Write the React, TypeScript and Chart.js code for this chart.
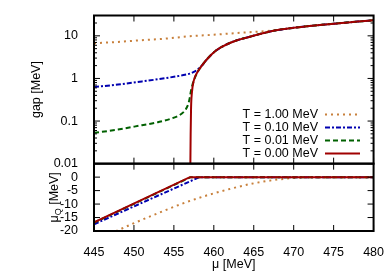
import React, { useEffect, useRef } from 'react';
import { Chart, registerables } from 'chart.js';

Chart.register(...registerables);

const FONT = '"Liberation Sans", Arial, Helvetica, sans-serif';
const FS = 12.5;

// ---- axis ticks ----
const xTicks = [445, 450, 455, 460, 465, 470, 475, 480];
const gapTicks = [0.01, 0.1, 1, 10];
const muQTicks = [-20, -15, -10, -5, 0];

// ---- series labels / colours ----
const seriesLabels = ['T = 1.00 MeV', 'T = 0.10 MeV', 'T = 0.01 MeV', 'T = 0.00 MeV'];
const seriesColors = ['#c8803c', '#0000b0', '#006000', '#a00000'];
const seriesDash = [[2, 4], [5, 2, 2, 2], [5, 3], []];

// ---- top panel: gap [MeV] ----
const muGapT100 = [445, 448, 451, 454, 457, 460, 463, 466, 468, 470, 472, 474, 476, 478, 480];
const gapT100 = [6.7, 7.2, 7.9, 8.6, 9.8, 10.6, 11.7, 12.7, 13.8, 15.4, 17.0, 18.5, 20.0, 21.6, 23.2];

const muGapT010 = [445, 448, 451, 454, 456, 457, 457.5, 458, 458.5, 459.2, 460.2, 461, 462, 463, 464.4, 466, 468, 470, 472, 474, 476, 478, 480];
const gapT010 = [0.63, 0.72, 0.85, 1.02, 1.18, 1.3, 1.42, 1.65, 2.0, 2.9, 4.4, 5.5, 6.8, 8.0, 9.4, 11.3, 13.7, 15.4, 17.0, 18.5, 20.0, 21.6, 23.2];

const muGapT001 = [445, 448, 451, 453, 455, 456, 456.5, 456.8, 457, 457.15, 457.3, 457.5, 458, 458.5, 459.2, 460.2, 461, 462, 463, 464.4, 466, 468, 470, 472, 474, 476, 478, 480];
const gapT001 = [0.053, 0.063, 0.08, 0.094, 0.12, 0.15, 0.19, 0.25, 0.36, 0.52, 0.68, 0.9, 1.45, 2.0, 2.9, 4.4, 5.5, 6.8, 8.0, 9.4, 11.3, 13.7, 15.4, 17.0, 18.5, 20.0, 21.6, 23.2];

const muGapT000 = [457.05, 457.1, 457.15, 457.25, 457.5, 458, 458.5, 459.2, 460.2, 461, 462, 463, 464.4, 466, 468, 470, 472, 474, 476, 478, 480];
const gapT000 = [0.005, 0.05, 0.2, 0.45, 0.9, 1.45, 2.0, 2.9, 4.4, 5.5, 6.8, 8.0, 9.4, 11.3, 13.7, 15.4, 17.0, 18.5, 20.0, 21.6, 23.2];

// ---- bottom panel: mu_Q [MeV] ----
const muQmuT100 = [445, 447.8, 450, 453, 456, 459, 462, 465, 468, 471, 474, 480];
const muQT100 = [-23.7, -20, -17.1, -13.4, -9.9, -6.9, -4.4, -2.3, -0.9, -0.15, 0, 0];

const muQmuT010 = [445, 458.2, 480];
const muQT010 = [-17.5, 0, 0];

const muQmuT001 = [445, 457.1, 480];
const muQT001 = [-16.9, 0, 0];

const muQmuT000 = [445, 457, 480];
const muQT000 = [-16.8, 0, 0];

const pts = (xs: number[], ys: number[]) => xs.map((x, i) => ({ x, y: ys[i] }));

const topSets = [
  pts(muGapT100, gapT100),
  pts(muGapT010, gapT010),
  pts(muGapT001, gapT001),
  pts(muGapT000, gapT000),
];
const botSets = [
  pts(muQmuT100, muQT100),
  pts(muQmuT010, muQT010),
  pts(muQmuT001, muQT001),
  pts(muQmuT000, muQT000),
];

const overlayPlugin = {
  id: 'overlay',
  afterDatasetsDraw(chart: any) {
    const { ctx, chartArea, scales } = chart;
    const xs = scales.x;
    const left = chartArea.left;
    const right = chartArea.right;
    const line = (x1: number, y1: number, x2: number, y2: number) => {
      ctx.beginPath();
      ctx.moveTo(x1, y1);
      ctx.lineTo(x2, y2);
      ctx.stroke();
    };
    ctx.save();
    ctx.strokeStyle = '#000';
    ctx.lineWidth = 1;
    const panels = [
      { s: scales.yTop, t: gapTicks },
      { s: scales.yBot, t: muQTicks },
    ];
    for (const p of panels) {
      for (const v of xTicks) {
        const px = xs.getPixelForValue(v);
        line(px, p.s.top, px, p.s.top + 6);
        line(px, p.s.bottom, px, p.s.bottom - 6);
      }
      for (const v of p.t) {
        const py = p.s.getPixelForValue(v);
        line(left, py, left + 6, py);
        line(right, py, right - 6, py);
      }
    }
    // minor log ticks
    const yt = scales.yTop;
    for (const d of gapTicks) {
      for (let m = 2; m <= 9; m++) {
        const v = d * m;
        if (v > yt.max) continue;
        const py = yt.getPixelForValue(v);
        line(left, py, left + 3, py);
        line(right, py, right - 3, py);
      }
    }
    // frames
    ctx.lineWidth = 2;
    for (const p of panels) {
      ctx.strokeRect(left, p.s.top, right - left, p.s.bottom - p.s.top);
    }
    // legend
    ctx.font = `${FS}px ${FONT}`;
    ctx.fillStyle = '#000';
    ctx.textAlign = 'right';
    ctx.textBaseline = 'middle';
    const rowY = [114.5, 127.5, 140.5, 153.5];
    seriesLabels.forEach((lab, i) => {
      const y = rowY[i];
      ctx.fillText(lab, 318, y);
      ctx.save();
      ctx.strokeStyle = seriesColors[i];
      ctx.lineWidth = 2;
      ctx.setLineDash(seriesDash[i]);
      line(325, y, 360, y);
      ctx.restore();
    });
    // mu_Q title with subscript
    ctx.save();
    ctx.translate(55, (scales.yBot.top + scales.yBot.bottom) / 2);
    ctx.rotate(-Math.PI / 2);
    ctx.textAlign = 'left';
    ctx.textBaseline = 'middle';
    const bigF = `${FS}px ${FONT}`;
    const smallF = `${FS * 0.72}px ${FONT}`;
    ctx.font = bigF;
    const w1 = ctx.measureText('μ').width;
    const w3 = ctx.measureText(' [MeV]').width;
    ctx.font = smallF;
    const w2 = ctx.measureText('Q').width;
    let x0 = -(w1 + w2 + w3) / 2;
    ctx.font = bigF;
    ctx.fillText('μ', x0, 0);
    x0 += w1;
    ctx.font = smallF;
    ctx.fillText('Q', x0, 3.5);
    x0 += w2;
    ctx.font = bigF;
    ctx.fillText(' [MeV]', x0, 0);
    ctx.restore();
    ctx.restore();
  },
};

export default function App() {
  const ref = useRef<HTMLCanvasElement | null>(null);
  useEffect(() => {
    if (!ref.current) return;
    const mk = (data: any[], i: number, yAxisID: string, smooth: boolean) => ({
      label: yAxisID === 'yTop' ? seriesLabels[i] : '',
      data,
      yAxisID,
      xAxisID: 'x',
      borderColor: seriesColors[i],
      backgroundColor: seriesColors[i],
      borderWidth: 2,
      borderDash: seriesDash[i],
      pointRadius: 0,
      fill: false,
      tension: 0,
      cubicInterpolationMode: smooth ? 'monotone' : 'default',
      order: 3 - i,
    });
    const datasets: any[] = [
      ...topSets.map((d, i) => mk(d, i, 'yTop', true)),
      ...botSets.map((d, i) => mk(d, i, 'yBot', i === 0)),
    ];
    const tickFont = { family: FONT, size: FS };
    const chart = new Chart(ref.current, {
      type: 'line',
      data: { datasets },
      plugins: [overlayPlugin],
      options: {
        animation: false,
        responsive: false,
        devicePixelRatio: 1,
        parsing: false,
        normalized: true,
        layout: { padding: { left: 0, right: 14, top: 15, bottom: 0 } },
        plugins: { legend: { display: false }, tooltip: { enabled: false } },
        scales: {
          x: {
            type: 'linear',
            min: 445,
            max: 480,
            position: 'bottom',
            grid: { display: false },
            border: { display: false },
            afterBuildTicks: (s: any) => { s.ticks = xTicks.map((v) => ({ value: v })); },
            afterFit: (s: any) => { s.height = 42; },
            ticks: { color: '#000', padding: 6, maxRotation: 0, autoSkip: false, font: tickFont, callback: (v: any) => String(v) },
            title: { display: true, text: 'μ [MeV]', color: '#000', font: tickFont, padding: { top: 0, bottom: 1 } },
          },
          yBot: {
            type: 'linear',
            min: -20,
            max: 5,
            position: 'left',
            stack: 'panels',
            stackWeight: 1,
            grid: { display: false },
            border: { display: false },
            afterBuildTicks: (s: any) => { s.ticks = muQTicks.map((v) => ({ value: v })); },
            afterFit: (s: any) => { s.width = 94; },
            ticks: { color: '#000', padding: 8, autoSkip: false, font: tickFont, callback: (v: any) => String(v) },
            title: { display: false },
          },
          yTop: {
            type: 'logarithmic',
            min: 0.01,
            max: 30,
            position: 'left',
            stack: 'panels',
            stackWeight: 2.2,
            grid: { display: false },
            border: { display: false },
            afterBuildTicks: (s: any) => { s.ticks = gapTicks.map((v) => ({ value: v })); },
            afterFit: (s: any) => { s.width = 94; },
            ticks: { color: '#000', padding: 8, autoSkip: false, font: tickFont, callback: (v: any) => String(v) },
            title: { display: true, text: 'gap [MeV]', color: '#000', font: tickFont, padding: { top: 29, bottom: 0 } },
          },
        },
      } as any,
    });
    return () => chart.destroy();
  }, []);
  return (
    <div style={{ position: 'fixed', left: 0, top: 0, width: 390, height: 273, background: '#fff' }}>
      <canvas ref={ref} width={390} height={273} style={{ display: 'block', width: 390, height: 273 }} />
    </div>
  );
}
